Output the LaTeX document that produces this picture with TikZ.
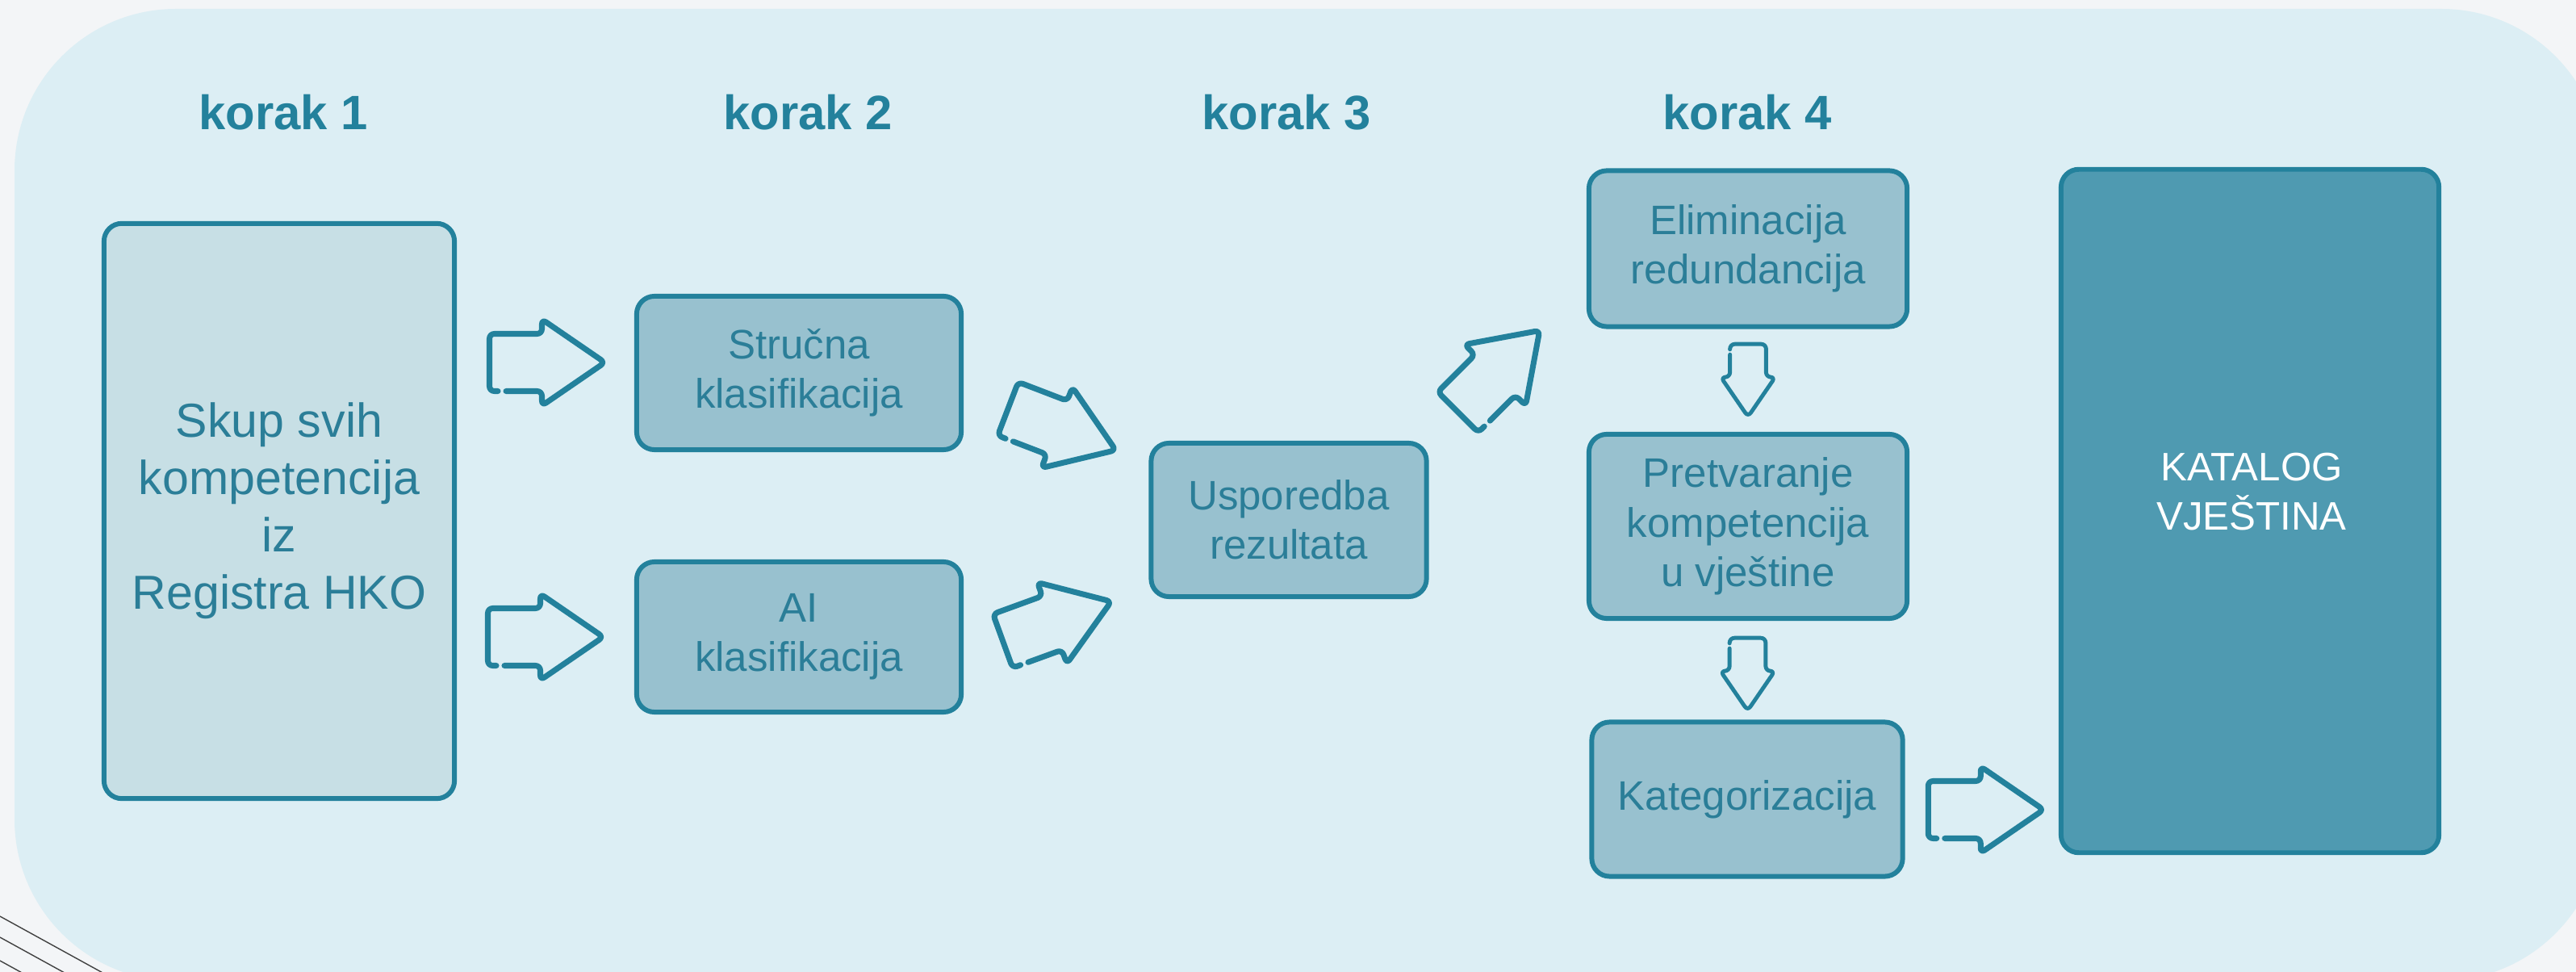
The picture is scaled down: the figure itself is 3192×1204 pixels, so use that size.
\documentclass[tikz,border=0pt]{standalone}
\usepackage{fontspec}
\setmainfont{Liberation Sans}
\usetikzlibrary{calc}
\definecolor{outerbg}{HTML}{F3F5F7}
\definecolor{panelbg}{HTML}{DCEEF4}
\definecolor{tealline}{HTML}{23819C}
\definecolor{tealtext}{HTML}{2B7E98}
\definecolor{palefill}{HTML}{C7DFE5}
\definecolor{midfill}{HTML}{98C1CF}
\definecolor{darkfill}{HTML}{4F9AB1}

\tikzstyle{every node}+=[inner sep=0pt]
\tikzstyle{korak}=[font=\fontsize{17}{20}\selectfont\bfseries, text=tealline]
\tikzstyle{box}=[draw=tealline, line width=1.7pt, rounded corners=0.22cm, align=center, text=tealtext]
\tikzstyle{midbox}=[box, fill=midfill, font=\fontsize{14.5}{17.4}\selectfont]
\tikzstyle{arrline}=[draw=tealline, rounded corners=0.06cm, line cap=round, line join=round]
\tikzstyle{bigarr}=[line width=2pt]
\tikzstyle{smallarr}=[line width=1.4pt, scale=0.63]
\tikzset{blockarr/.pic={
  \draw [arrline] (-51,35.5) -- (-6.5,35.5) -- (-6.5,53.5) -- (71.5,0) -- (-6.5,-53.5)
    -- (-6.5,-35.5) -- (-71.5,-35.5) -- (-71.5,35.5) -- (-61,35.5);
}}

\begin{document}
\begin{tikzpicture}[x=0.01cm, y=-0.01cm]
\useasboundingbox (0,0) rectangle (3192,1204);
\clip (0,0) rectangle (3192,1204);
\fill [outerbg] (0,0) rectangle (3192,1204);
\draw [black!75, line width=0.4pt] (0,1135) -- (200,1245);
\draw [black!75, line width=0.4pt] (0,1161) -- (200,1271);
\draw [black!75, line width=0.4pt] (0,1190) -- (200,1300);
\fill [panelbg, rounded corners=2cm] (18,11) rectangle (3225,1215);

\node [korak, anchor=base] (k1) at (351,161) {korak 1};
\node [korak, anchor=base] (k2) at (1001,161) {korak 2};
\node [korak, anchor=base] (k3) at (1594,161) {korak 3};
\node [korak, anchor=base] (k4) at (2165,161) {korak 4};

\node [box, fill=palefill, font=\fontsize{16.8}{20.2}\selectfont, minimum width=4.34cm, minimum height=7.12cm] (skup) at (346,633) {Skup svih\\kompetencija\\iz\\Registra HKO};
\node [midbox, minimum width=4.02cm, minimum height=1.90cm] (strucna) at (990,462) {Stručna\\klasifikacija};
\node [midbox, minimum width=4.02cm, minimum height=1.86cm] (ai) at (990,789) {AI\\klasifikacija};
\node [midbox, minimum width=3.41cm, minimum height=1.90cm] (usp) at (1597,644) {Usporedba\\rezultata};
\node [midbox, minimum width=3.94cm, minimum height=1.93cm] (elim) at (2166,308) {Eliminacija\\redundancija};
\node [midbox, minimum width=3.94cm, minimum height=2.28cm] (pretv) at (2166,652) {Pretvaranje\\kompetencija\\u vještine};
\node [midbox, minimum width=3.85cm, minimum height=1.91cm] (kateg) at (2165,990) {Kategorizacija};
\node [box, fill=darkfill, minimum width=4.68cm, minimum height=8.46cm] (katalog) at (2788,633) {};
\node [font=\fontsize{14}{17.4}\selectfont, text=white, align=center] (katalogtxt) at ($(katalog.center)+(2,-24)$) {KATALOG\\VJEŠTINA};

\pic [bigarr] at ($(skup.east|-strucna.west)!.5!(strucna.west)+(2,-13)$) {blockarr};
\pic [bigarr] at ($(skup.east|-ai.west)!.5!(ai.west)$) {blockarr};
\pic [bigarr, rotate=-21] at ($(strucna.east)!.5!(usp.west)+(7,-21)$) {blockarr};
\pic [bigarr, rotate=20] at ($(ai.east)!.5!(usp.west)+(1,53)$) {blockarr};
\pic [bigarr, rotate=45] at ($(usp.north east)!.5!(elim.west)+(-11,33)$) {blockarr};
\pic [smallarr, rotate=-90] at ($(elim.south)!.5!(pretv.north)$) {blockarr};
\pic [smallarr, rotate=-90] at ($(pretv.south)!.5!(kateg.north)+(0,5)$) {blockarr};
\pic [bigarr] at ($(kateg.east)!.5!(katalog.west|-kateg.east)+(5,13)$) {blockarr};
\end{tikzpicture}
\end{document}
